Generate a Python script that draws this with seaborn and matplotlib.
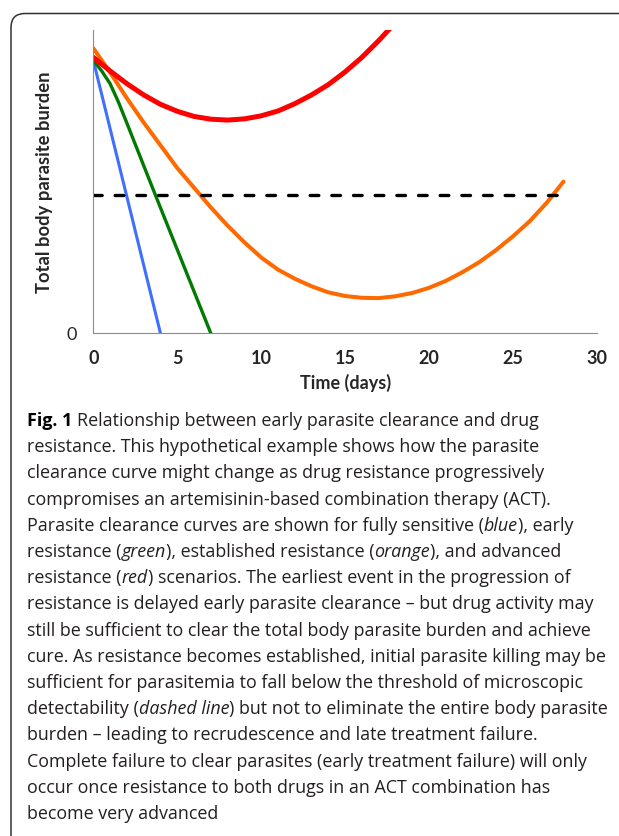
import matplotlib
matplotlib.use("Agg")
import matplotlib.pyplot as plt
import seaborn as sns
import pandas as pd
from matplotlib.patches import FancyBboxPatch
from matplotlib.transforms import IdentityTransform

# values (time in days, burden in arbitrary units 0-100)
blue_days = [0, 1, 2, 3, 4]
blue_burden = [90, 67.5, 45, 22.5, 0]

green_days = [0, 0.5, 1, 1.5, 2, 3, 4, 5, 6, 7]
green_burden = [90, 86.5, 82.3, 76.2, 69.3, 55.3, 41.4, 27.6, 13.8, 0]

orange_days = list(range(0, 29))
orange_burden = [94, 86, 77.5, 69.5, 62, 54.5, 48, 41.5, 35.5, 30, 25, 21, 18, 15.5,
                 13.5, 12.3, 11.7, 11.6, 12.2, 13.3, 15, 17.3, 20.2, 23.5, 27.5, 32,
                 37, 43, 50]

red_days = list(range(0, 19))
red_burden = [91, 86.5, 82.3, 78.6, 75.5, 73.2, 71.5, 70.6, 70.3, 70.7, 71.7, 73.3,
              75.7, 78.6, 82, 86.2, 91, 96.5, 102.5]

threshold_days = [0, 28.1]
threshold_burden = [45.5, 45.5]

x_ticks = [0, 5, 10, 15, 20, 25, 30]

caption = [
    [("Fig. 1", "bold"), (" Relationship between early parasite clearance and drug", "normal")],
    [("resistance. This hypothetical example shows how the parasite", "normal")],
    [("clearance curve might change as drug resistance progressively", "normal")],
    [("compromises an artemisinin-based combination therapy (ACT).", "normal")],
    [("Parasite clearance curves are shown for fully sensitive (", "normal"), ("blue", "italic"), ("), early", "normal")],
    [("resistance (", "normal"), ("green", "italic"), ("), established resistance (", "normal"), ("orange", "italic"), ("), and advanced", "normal")],
    [("resistance (", "normal"), ("red", "italic"), (") scenarios. The earliest event in the progression of", "normal")],
    [("resistance is delayed early parasite clearance \u2013 but drug activity may", "normal")],
    [("still be sufficient to clear the total body parasite burden and achieve", "normal")],
    [("cure. As resistance becomes established, initial parasite killing may be", "normal")],
    [("sufficient for parasitemia to fall below the threshold of microscopic", "normal")],
    [("detectability (", "normal"), ("dashed line", "italic"), (") but not to eliminate the entire body parasite", "normal")],
    [("burden \u2013 leading to recrudescence and late treatment failure.", "normal")],
    [("Complete failure to clear parasites (early treatment failure) will only", "normal")],
    [("occur once resistance to both drugs in an ACT combination has", "normal")],
    [("become very advanced", "normal")],
]

sns.set_style("white")
plt.rcParams["font.family"] = ["Lato", "DejaVu Sans"]

W, H = 619, 836
fig = plt.figure(figsize=(W / 100, H / 100), dpi=100)
ax = fig.add_axes([93.3 / W, 1 - 333.3 / H, (597 - 93.3) / W, (333.3 - 30) / H])

sns.lineplot(x=blue_days, y=blue_burden, color="#3f6fff", linewidth=2.2, ax=ax)
sns.lineplot(x=green_days, y=green_burden, color="#007a00", linewidth=2.4, ax=ax)
sns.lineplot(x=orange_days, y=orange_burden, color="#ff6a00", linewidth=2.9, ax=ax)
sns.lineplot(x=red_days, y=red_burden, color="#ff0000", linewidth=3.6, ax=ax)
sns.lineplot(x=threshold_days, y=threshold_burden, color="black", linewidth=2.4,
             linestyle=(0, (2.6, 3.9)), dash_capstyle="round", ax=ax)

ax.set_xlim(0, 30)
ax.set_ylim(0, 100)
ax.set_xticks(x_ticks)
ax.set_xticklabels([str(t) for t in x_ticks], fontweight="bold", fontsize=13)
ax.set_yticks([0])
ax.set_yticklabels(["0"], fontsize=13)
ax.tick_params(direction="out", length=4.3, width=0.8, color="#8c8c8c")
ax.tick_params(axis="x", pad=8)
ax.tick_params(axis="y", pad=7.5)
for side in ["top", "right"]:
    ax.spines[side].set_visible(False)
for side in ["left", "bottom"]:
    ax.spines[side].set_color("#8c8c8c")
    ax.spines[side].set_linewidth(0.8)
ax.set_xlabel("Time (days)", fontweight="bold", fontsize=13, labelpad=5)
ax.set_ylabel("Total body parasite burden", fontweight="bold", fontsize=13.2, va="center")
ax.yaxis.set_label_coords(-0.096, 0.497)

# rounded frame around the figure panel
frame = FancyBboxPatch((11, -60), 700, H - 13.5 + 60,
                       boxstyle="round,pad=0,rounding_size=14",
                       transform=IdentityTransform(), fill=False,
                       edgecolor="#333333", linewidth=1.1)
fig.add_artist(frame)

# caption with mixed bold / italic runs
renderer = fig.canvas.get_renderer()
cap_font = ["Open Sans", "DejaVu Sans"]
cap_size = 12.85
probe = fig.text(0, 0, "x x", fontsize=cap_size, family=cap_font)
w_sp = probe.get_window_extent(renderer).width
probe.set_text("xx")
w_sp -= probe.get_window_extent(renderer).width
probe.remove()

for i, runs in enumerate(caption):
    y = 1 - (421 + 26.2 * i) / H
    x = 27
    for txt, style in runs:
        lead = len(txt) - len(txt.lstrip(" "))
        trail = len(txt) - len(txt.rstrip(" "))
        core = txt.strip(" ")
        x += lead * w_sp
        kw = dict(fontsize=cap_size, va="center", ha="left", color="#231f20", family=cap_font)
        if style == "bold":
            kw["fontweight"] = "bold"
            kw["color"] = "black"
        if style == "italic":
            kw["fontstyle"] = "italic"
        t = fig.text(x / W, y, core, **kw)
        x += t.get_window_extent(renderer).width + trail * w_sp

fig.savefig("out.png", dpi=100)
